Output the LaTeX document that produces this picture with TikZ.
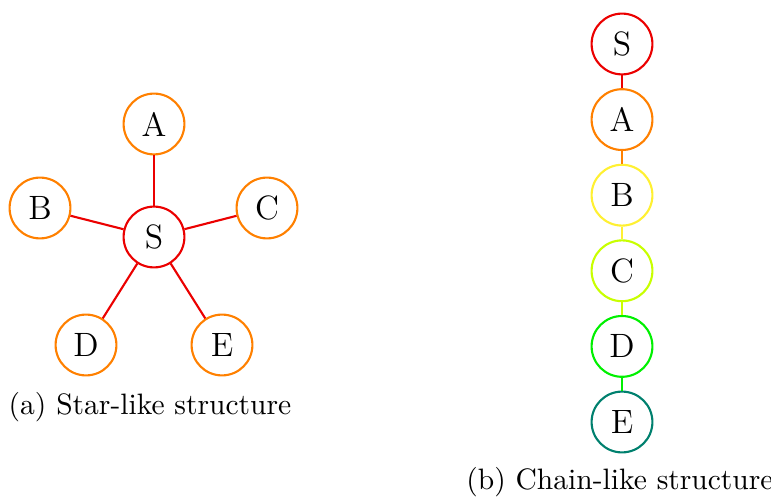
\documentclass[tikz,border=0pt]{standalone}
\usepackage{tikz}
\usetikzlibrary{positioning}
\definecolor{colS}{RGB}{235,0,0}
\definecolor{colA}{RGB}{255,128,0}
\definecolor{colB}{RGB}{255,240,50}
\definecolor{colC}{RGB}{200,255,0}
\definecolor{colD}{RGB}{0,240,0}
\definecolor{colE}{RGB}{0,128,110}
\begin{document}
\begin{tikzpicture}[x=0.0125cm,y=-0.0125cm,
    vert/.style={circle,draw,line width=0.75pt,minimum size=0.76cm,inner sep=0pt,font=\large},
    edge/.style={line width=0.75pt},
    subcap/.style={font=\fontsize{10.5}{13}\selectfont}]
    \useasboundingbox (0,0) rectangle (771,497);
    % star
    \node[vert,draw=colS] (st-S) at (154,237) {S};
    \foreach \lv/\lx/\ly in {A/154/124,B/40/208,C/267/208,D/86/345,E/222/345} {
        \node[vert,draw=colA] (st-\lv) at (\lx,\ly) {\lv};
        \draw[edge,colS] (st-S) -- (st-\lv);
    }
    \node[subcap] (subcap-a) at (150,407) {(a) Star-like structure};
    % chain
    \foreach[count=\i] \lv/\lc in {S/colS,A/colA,B/colB,C/colC,D/colD,E/colE} {
        \node[vert,draw=\lc] (ch-\lv) at (622,{44+75.6*(\i-1)}) {\lv};
    }
    \foreach \la/\lb/\lc in {S/A/colS,A/B/colA,B/C/colB,C/D/colC,D/E/colD} {
        \draw[edge,\lc] (ch-\la) -- (ch-\lb);
    }
    \node[subcap] (subcap-b) at (620,482) {(b) Chain-like structure};
\end{tikzpicture}
\end{document}
